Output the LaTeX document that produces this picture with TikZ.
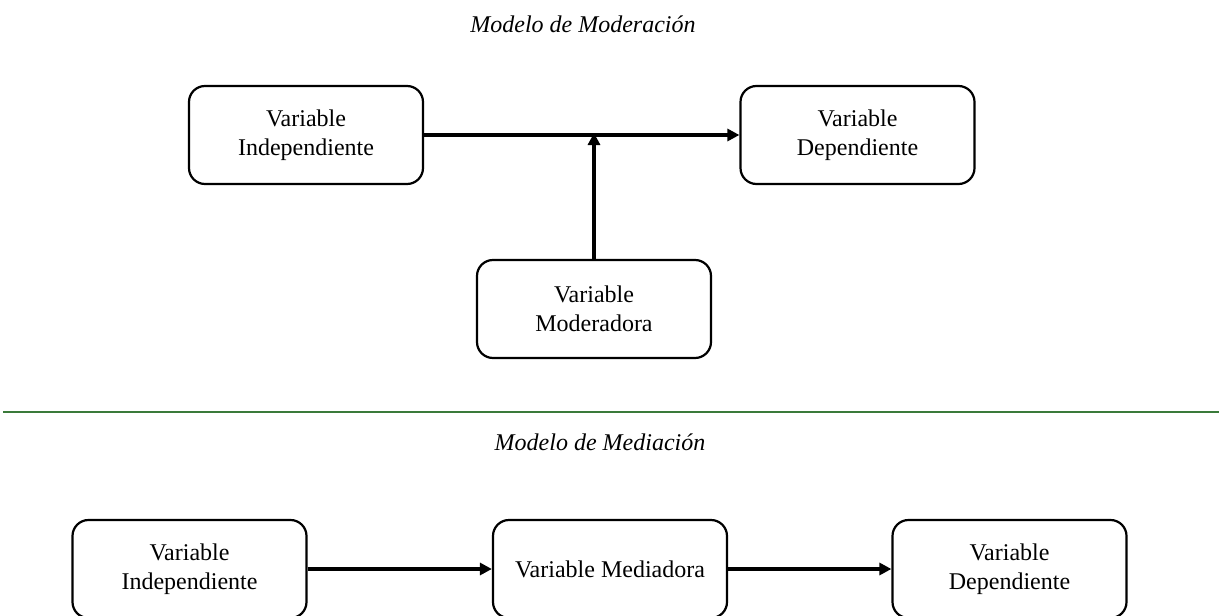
\documentclass[tikz,border=0pt]{standalone}
\usepackage{fontspec}
\setmainfont{Liberation Serif}
\usetikzlibrary{arrows.meta}
\definecolor{rulegreen}{RGB}{58,122,58}
\begin{document}
\begin{tikzpicture}[x=1pt,y=-1pt,
  varbox/.style={draw, line width=2.2pt, rounded corners=16pt,
    minimum width=234pt, minimum height=98pt, inner sep=0pt,
    align=center, font=\fontsize{24}{29}\selectfont},
  link/.style={line width=3.2pt, -{Triangle[length=12pt,width=12pt]}},
  heading/.style={anchor=base, font=\fontsize{24}{29}\selectfont\itshape}]
\useasboundingbox (0,0) rectangle (1219,616);

% moderation model
\node[heading] (tmod) at (583,32) {Modelo de Moderación};
\node[varbox] (vi1) at (306,135) {Variable\\Independiente};
\node[varbox] (vd1) at (857.5,135) {Variable\\Dependiente};
\node[varbox] (vmo) at (594,309) {Variable\\Moderadora};
\coordinate (hit) at (594,135);
\draw[link] (vi1.east) -- (vd1.west);
\draw[link] (vmo.north) -- ([yshift=2pt]hit);

% separator
\coordinate (sepL) at (3,412);
\coordinate (sepR) at (1219,412);
\draw[rulegreen, line width=1.8pt] (sepL) -- (sepR);

% mediation model
\node[heading] (tmed) at (600,450) {Modelo de Mediación};
\node[varbox] (vi2) at (189.5,569) {Variable\\Independiente};
\node[varbox] (vme) at (610,569) {Variable Mediadora};
\node[varbox] (vd2) at (1009.5,569) {Variable\\Dependiente};
\draw[link] (vi2.east) -- (vme.west);
\draw[link] (vme.east) -- (vd2.west);
\end{tikzpicture}
\end{document}
